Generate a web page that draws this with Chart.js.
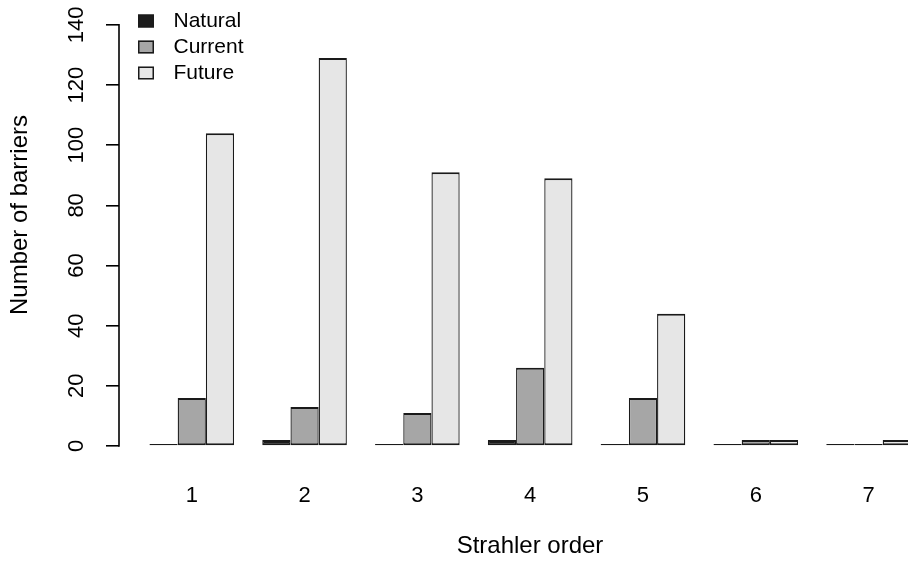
<!DOCTYPE html>
<html>
<head>
<meta charset="utf-8">
<script src="https://cdn.jsdelivr.net/npm/chart.js@4"></script>
<style>
  html, body { margin: 0; padding: 0; background: #fff; overflow: hidden; }
  #wrap { position: relative; width: 950px; height: 578px; margin-top: -16px; }
</style>
</head>
<body>
<div id="wrap"><canvas id="myChart"></canvas></div>
<script>
// data
const categories = [1, 2, 3, 4, 5, 6, 7];
const natural = [0, 2, 0, 2, 0, 0, 0];
const current = [16, 13, 11, 26, 16, 2, 0];
const future = [104, 129, 91, 89, 44, 2, 2];
const yTicks = [0, 20, 40, 60, 80, 100, 120, 140];

const seriesNames = ['Natural', 'Current', 'Future'];
const fills = ['#1c1c1c', '#a6a6a6', '#e6e6e6'];
const edge = '#1a1a1a';

Chart.defaults.font.family = "'Liberation Sans', Arial, sans-serif";
Chart.defaults.color = '#000';

// legend swatches: box on the left part of a wider image
const swatches = fills.map(c => {
  const cv = document.createElement('canvas');
  cv.width = 26; cv.height = 14;
  const g = cv.getContext('2d');
  g.fillStyle = c;
  g.fillRect(1, 0.5, 16, 13);
  g.strokeStyle = edge;
  g.lineWidth = 1.5;
  g.strokeRect(1.75, 1.25, 14.5, 11.5);
  return cv;
});

const toPoints = arr => arr.map((v, i) => ({ x: categories[i], y: v }));

const data = {
  datasets: [natural, current, future].map((arr, i) => ({
    label: seriesNames[i],
    data: toPoints(arr),
    backgroundColor: fills[i],
    borderColor: edge,
    borderWidth: { top: 2, bottom: 2, left: 1.3, right: 1.3 },
    borderSkipped: false,
    minBarLength: 2,
    categoryPercentage: 0.75,
    barPercentage: 1
  }))
};

// legend sits in the top-left corner of the plot
const legendSpot = {
  id: 'legendSpot',
  afterLayout(chart) {
    const lg = chart.legend;
    lg.left = 132; lg.top = 21.5;
    lg.right = lg.left + 220; lg.bottom = lg.top + 150;
  }
};

// R style axis line: only from the first to the last tick
const yAxisLine = {
  id: 'yAxisLine',
  afterDraw(chart) {
    const { ctx, chartArea: { left }, scales: { y } } = chart;
    ctx.save();
    ctx.strokeStyle = '#000';
    ctx.lineWidth = 1.6;
    ctx.beginPath();
    ctx.moveTo(left, y.getPixelForValue(yTicks[0]) + 0.8);
    ctx.lineTo(left, y.getPixelForValue(yTicks[yTicks.length - 1]) - 0.8);
    ctx.stroke();
    ctx.restore();
  }
};

const config = {
  type: 'bar',
  data,
  options: {
    responsive: true,
    maintainAspectRatio: false,
    animation: false,
    layout: { padding: { top: 0, right: 9, left: 0, bottom: 0 } },
    plugins: {
      tooltip: { enabled: false },
      legend: {
        position: 'chartArea',
        align: 'start',
        labels: {
          usePointStyle: true,
          pointStyleWidth: 26,
          boxHeight: 14,
          padding: 5,
          color: '#000',
          font: { size: 21 },
          generateLabels: chart => Chart.defaults.plugins.legend.labels.generateLabels(chart)
            .map((item, i) => Object.assign(item, { pointStyle: swatches[i] }))
        }
      }
    },
    scales: {
      x: {
        type: 'linear',
        offset: false,
        min: 0.355,
        max: 7.642,
        afterBuildTicks: s => { s.ticks = categories.map(v => ({ value: v })); },
        afterFit: s => { s.height = 116; s.paddingLeft = 0; s.paddingRight = 0; },
        grid: { display: false },
        border: { display: false },
        ticks: { font: { size: 22 }, padding: 29, color: '#000' },
        title: {
          display: true,
          text: 'Strahler order',
          font: { size: 24 },
          color: '#000',
          padding: { top: 0, bottom: 1 }
        }
      },
      y: {
        min: 0,
        max: 153.6,
        afterBuildTicks: s => { s.ticks = yTicks.map(v => ({ value: v })); },
        afterFit: s => { s.width = 119; s.paddingTop = 0; s.paddingBottom = 0; },
        grid: {
          display: true,
          drawOnChartArea: false,
          drawTicks: true,
          tickLength: 13,
          color: '#000',
          lineWidth: 1.6
        },
        border: { display: false },
        ticks: {
          font: { size: 22 },
          color: '#000',
          minRotation: 90,
          maxRotation: 90,
          crossAlign: 'center',
          padding: 11
        },
        title: {
          display: true,
          text: 'Number of barriers',
          font: { size: 24 },
          color: '#000',
          padding: { top: 5.5, bottom: 0 }
        }
      }
    }
  },
  plugins: [legendSpot, yAxisLine]
};

const myChart = new Chart(document.getElementById('myChart'), config);
</script>
</body>
</html>
